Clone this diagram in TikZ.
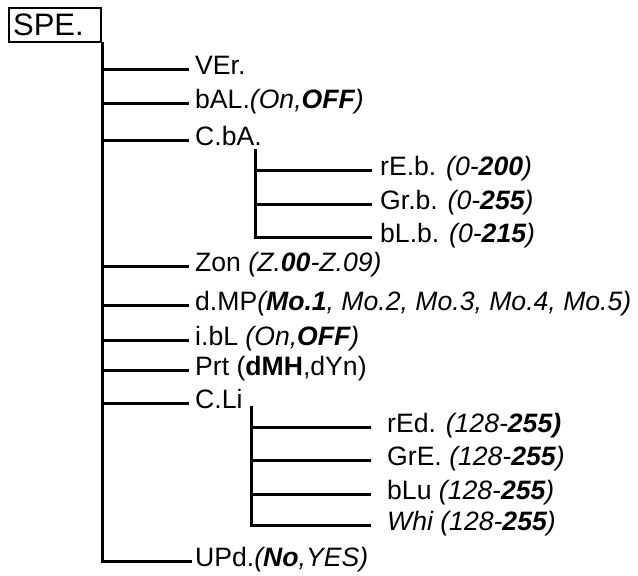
\documentclass[tikz,border=0pt]{standalone}
\usepackage{fontspec}
\setmainfont{Liberation Sans}

\tikzset{
	branch/.style={line width=3pt, line cap=rect},
	item/.style={anchor=west, inner sep=0pt, text height=18pt, text depth=8pt, font=\fontsize{26.6}{30}\selectfont},
}

\begin{document}
\begin{tikzpicture}[x=1pt, y=-1pt]
	\useasboundingbox (0,0) rectangle (638,576);
	
	\node[draw, line width=2.2pt, anchor=north west, minimum width=92pt, minimum height=34pt, text width=84pt, inner xsep=4pt, font=\fontsize{31}{34}\selectfont] (spe) at (8,7) {SPE.};
	
	% main menu
	\foreach \name/\y/\txt in {ver/69/{VEr.}, bal/103/{bAL.\textit{(On,\textbf{OFF})}}, cba/140/{C.bA.}, zon/266/{Zon \textit{(Z.\textbf{00}-Z.09)}}, dmp/305/{d.MP\textit{(\textbf{Mo.1}, Mo.2, Mo.3, Mo.4, Mo.5)}}, ibl/340/{i.bL \textit{(On,\textbf{OFF})}}, prt/370/{Prt (\textbf{dMH},dYn)}, cli/403/{C.Li}}
	{
		\node[item] (\name) at (195,\y) {\txt};
		\draw[branch, shorten >=7.5pt] (spe.south east |- \name.west) -- (\name.west);
	}
	\node[item] (upd) at (195,561) {UPd.\textit{(\textbf{No},YES)}};
	\draw[branch, shorten >=5pt] (spe.south east) -- (spe.south east |- upd.west) -- (upd.west);
	
	% colour balance
	\coordinate (cbadrop) at (255,150);
	\foreach \name/\y/\txt in {reb/170/{rE.b. \textit{(0-\textbf{200})}}, grb/204/{Gr.b. \textit{(0-\textbf{255})}}, blb/237/{bL.b. \textit{(0-\textbf{215})}}}
	{
		\node[item] (\name) at (380,\y) {\txt};
		\draw[branch, shorten >=9.5pt] (cbadrop |- \name.west) -- (\name.west);
	}
	\draw[branch] (cbadrop) -- (cbadrop |- blb.west);
	
	% colour limits
	\coordinate (clidrop) at (251,407);
	\foreach \name/\y/\txt in {red/427/{rEd. \textit{(128-\textbf{255)}}}, gre/460/{GrE. \textit{(128-\textbf{255})}}, blu/494/{bLu \textit{(128-\textbf{255})}}, whi/525/{\textit{Whi (128-\textbf{255})}}}
	{
		\node[item] (\name) at (387,\y) {\txt};
		\draw[branch, shorten >=17.5pt] (clidrop |- \name.west) -- (\name.west);
	}
	\draw[branch] (clidrop) -- (clidrop |- whi.west);
\end{tikzpicture}
\end{document}
